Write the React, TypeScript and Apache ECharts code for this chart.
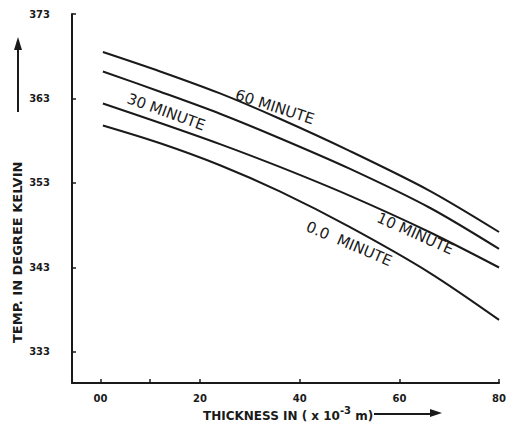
import React, { useEffect, useRef } from "react";
import * as echarts from "echarts";

const thickness = [0.5, 12, 24, 36, 50, 66, 80];
const temp60 = [368.5, 366.2, 363.6, 360.6, 356.8, 352.1, 347.2];
const temp10 = [366.2, 363.8, 361.2, 358.3, 354.7, 350.1, 345.2];
const temp30 = [362.4, 360.1, 357.6, 354.9, 351.5, 347.2, 343.0];
const temp0 = [359.8, 357.7, 355.1, 352.0, 347.8, 342.4, 336.8];

const yTicks = [333, 343, 353, 363, 373];
const xLabelTicks = [0, 20, 40, 60, 80];
const xMinorTicks = [0, 10, 20, 40, 60, 80];

const seriesDefs = [
  { name: "60 MINUTE", data: temp60, label: "60 MINUTE", at: [35.0, 362.0], rot: -18 },
  { name: "10 MINUTE", data: temp10, label: "10 MINUTE", at: [63.2, 347.0], rot: -24 },
  { name: "30 MINUTE", data: temp30, label: "30 MINUTE", at: [13.2, 361.4], rot: -20 },
  { name: "0.0 MINUTE", data: temp0, label: "0.0  MINUTE", at: [49.9, 345.8], rot: -23 },
];

const FONT = "DejaVu Sans";
const INK = "#1a1a1a";

export default function App() {
  const ref = useRef<HTMLDivElement>(null);
  useEffect(() => {
    if (!ref.current) return;
    const chart = echarts.init(ref.current, null, { renderer: "svg" });
    chart.setOption({
      animation: false,
      backgroundColor: "#ffffff",
      grid: { left: 72, right: 7, top: 14, bottom: 60, containLabel: false },
      xAxis: {
        type: "value",
        min: -5.7,
        max: 80,
        splitLine: { show: false },
        axisLine: { onZero: false, lineStyle: { color: INK, width: 2 } },
        axisTick: { show: true, inside: true, length: 4, customValues: xMinorTicks, lineStyle: { color: INK, width: 1.5 } },
        axisLabel: {
          customValues: xLabelTicks,
          margin: 10,
          color: INK,
          fontFamily: FONT,
          fontWeight: "bold",
          fontSize: 10,
          formatter: (v: number) => (v === 0 ? "00" : String(v)),
        },
      },
      yAxis: {
        type: "value",
        min: 329.33,
        max: 373,
        splitLine: { show: false },
        axisLine: { onZero: false, lineStyle: { color: INK, width: 2 } },
        axisTick: { show: true, inside: true, length: 4, customValues: yTicks, lineStyle: { color: INK, width: 1.5 } },
        axisLabel: {
          customValues: yTicks,
          margin: 22,
          color: INK,
          fontFamily: FONT,
          fontWeight: "bold",
          fontSize: 10,
        },
      },
      series: seriesDefs.map((s) => ({
        type: "line",
        name: s.name,
        data: thickness.map((x, i) => [x, s.data[i]]),
        smooth: 0.3,
        showSymbol: false,
        symbol: "none",
        lineStyle: { color: INK, width: 2 },
        markPoint: {
          symbol: "circle",
          symbolSize: 0,
          silent: true,
          data: [
            {
              coord: s.at,
              label: {
                show: true,
                formatter: s.label,
                position: "inside",
                rotate: s.rot,
                color: INK,
                fontFamily: FONT,
                fontSize: 15,
                fontWeight: 500,
              },
            },
          ],
        },
      })),
      graphic: [
        {
          type: "text",
          x: 11,
          y: 343,
          rotation: Math.PI / 2,
          style: {
            text: "TEMP. IN DEGREE KELVIN",
            fill: INK,
            font: `bold 13px "${FONT}"`,
            textAlign: "left",
            textVerticalAlign: "top",
          },
        },
        { type: "line", shape: { x1: 18, y1: 112, x2: 18, y2: 46 }, style: { stroke: INK, lineWidth: 2 } },
        { type: "polygon", shape: { points: [[18, 37], [14, 50], [22, 50]] }, style: { fill: INK } },
        {
          type: "text",
          x: 203,
          y: 405,
          style: {
            text: "THICKNESS IN ( x 10{sup|-3} m)",
            fill: INK,
            font: `bold 12px "${FONT}"`,
            rich: {
              sup: { fontSize: 10, fontWeight: "bold", fontFamily: FONT, verticalAlign: "top", padding: [0, 0, 12, 0], fill: INK },
            },
          },
        },
        { type: "line", shape: { x1: 374, y1: 414, x2: 432, y2: 414 }, style: { stroke: INK, lineWidth: 2 } },
        { type: "polygon", shape: { points: [[442, 413], [430, 409], [430, 417]] }, style: { fill: INK } },
      ],
    });
    return () => chart.dispose();
  }, []);
  return <div ref={ref} style={{ position: "fixed", left: 0, top: 0, width: 509, height: 443 }} />;
}
